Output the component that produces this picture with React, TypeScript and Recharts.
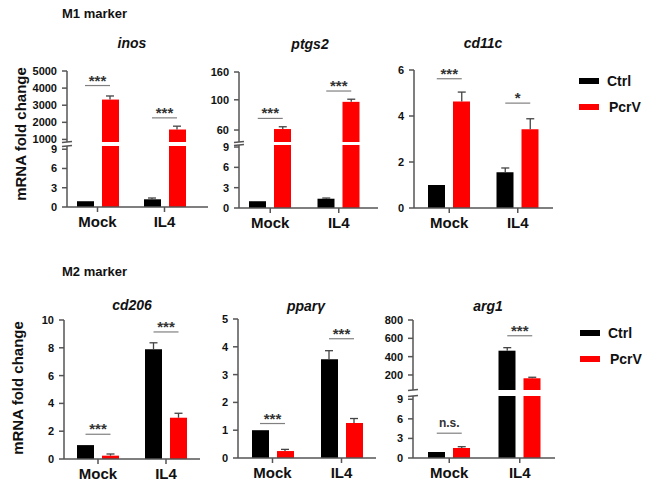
import React from 'react'
import { BarChart, Bar, XAxis, YAxis, ReferenceLine, ReferenceDot, Legend } from 'recharts'

const FONT = '"Liberation Sans", Arial, Helvetica, sans-serif'

const categories = ['Mock', 'IL4']

// M1 markers
const inosCtrl = [0.9, 1.2]
const inosCtrlErr = [0, 0.2]
const inosPcrv = [3330, 1580]
const inosPcrvErr = [210, 195]
const inosSig = [4150, 2260]
const inosSigLabel = ['***', '***']

const ptgs2Ctrl = [1.0, 1.37]
const ptgs2CtrlErr = [0, 0.1]
const ptgs2Pcrv = [61, 96.6]
const ptgs2PcrvErr = [2.4, 4.4]
const ptgs2Sig = [73, 116]
const ptgs2SigLabel = ['***', '***']

const cd11cCtrl = [1.0, 1.55]
const cd11cCtrlErr = [0, 0.19]
const cd11cPcrv = [4.63, 3.42]
const cd11cPcrvErr = [0.41, 0.46]
const cd11cSig = [5.62, 4.56]
const cd11cSigLabel = ['***', '*']

// M2 markers
const cd206Ctrl = [1.0, 7.9]
const cd206CtrlErr = [0, 0.46]
const cd206Pcrv = [0.24, 2.97]
const cd206PcrvErr = [0.12, 0.32]
const cd206Sig = [1.78, 9.14]
const cd206SigLabel = ['***', '***']

const ppargCtrl = [1.0, 3.55]
const ppargCtrlErr = [0, 0.31]
const ppargPcrv = [0.25, 1.26]
const ppargPcrvErr = [0.06, 0.16]
const ppargSig = [1.24, 4.29]
const ppargSigLabel = ['***', '***']

const arg1Ctrl = [0.92, 465]
const arg1CtrlErr = [0, 33]
const arg1Pcrv = [1.53, 164]
const arg1PcrvErr = [0.2, 11]
const arg1Sig = [3.8, 628]
const arg1SigLabel = ['n.s.', '***']

const YW = 40
const MT = 10
const XH = 32
const BAR = 17
const GAP = 8
const HALF = (BAR + GAP) / 2

type Seg = { top: number; bottom: number; domain: [number, number]; ticks: number[]; log?: boolean }

type PanelDef = {
  axisX: number
  right: number
  padL: number
  padR: number
  lower: Seg
  upper?: Seg
  ctrl: number[]
  ctrlErr: number[]
  pcrv: number[]
  pcrvErr: number[]
  sig: number[]
  sigLabel: string[]
  legend?: { x: number; y: number; gap: number; seg: 'lower' | 'upper' }
}

const errShape = (dx: number) => (props: any) => {
  const x = props.x1 + dx
  const yTop = Math.min(props.y1, props.y2)
  const yBot = Math.max(props.y1, props.y2)
  return (
    <g>
      <line x1={x} y1={yBot} x2={x} y2={yTop} stroke="#444" strokeWidth={1.3} />
      <line x1={x - 4} y1={yTop} x2={x + 4} y2={yTop} stroke="#444" strokeWidth={1.3} />
    </g>
  )
}

const sigShape = (label: string) => (props: any) => {
  const { cx, cy } = props
  const stars = label.includes('*')
  return (
    <g>
      <line x1={cx - HALF} x2={cx + HALF} y1={cy} y2={cy} stroke="#808080" strokeWidth={1.2} />
      <text x={cx} y={stars ? cy : cy - 6.5} textAnchor="middle" fontSize={stars ? 15 : 12}
        fontWeight="bold" fill="#333" fontFamily={FONT}>{label}</text>
    </g>
  )
}

const breakShape = (props: any) => {
  const x = Math.min(props.x1, props.x2)
  const y = props.y1
  return <line x1={x - 5} y1={y + 0.5} x2={x + 5} y2={y - 0.5} stroke="#555" strokeWidth={1.5} />
}

const legendContent = (gap: number) => (props: any) => (
  <div style={{ position: 'relative', width: 80, height: 50 }}>
    {(props.payload ?? []).map((e: any, i: number) => (
      <div key={e.value} style={{ position: 'absolute', left: 0, top: i * gap, display: 'flex', alignItems: 'center', height: 16 }}>
        <span style={{ width: 20, height: 6, background: e.color, display: 'inline-block' }} />
        <span style={{ marginLeft: i === 0 ? 8 : 10, fontSize: 14, fontWeight: 'bold', fontFamily: FONT, color: '#111' }}>{e.value}</span>
      </div>
    ))}
  </div>
)

function SegmentChart({ p, seg, showX, kind }: { p: PanelDef; seg: Seg; showX: boolean; kind: 'lower' | 'upper' }) {
  const plotW = p.right - p.axisX
  const plotH = seg.bottom - seg.top
  const hasLegend = p.legend && p.legend.seg === kind
  const mr = hasLegend ? 650 - p.right : 6
  const mb = showX ? 0 : 6
  const left = p.axisX - YW
  const top = seg.top - MT
  const rows = categories.map((c, i) => ({ name: c, ctrl: p.ctrl[i], pcrv: p.pcrv[i] }))
  const axisStyle = { stroke: '#555', strokeWidth: 1.5 }
  return (
    <div style={{ position: 'absolute', left, top }}>
      <BarChart width={YW + plotW + mr} height={MT + plotH + (showX ? XH : 0) + mb} data={rows}
        margin={{ top: MT, right: mr, bottom: mb, left: 0 }} barSize={BAR} barGap={GAP}>
        <XAxis dataKey="name" hide={!showX} height={XH} padding={{ left: p.padL, right: p.padR }}
          tickSize={5} tickMargin={4} axisLine={axisStyle} tickLine={axisStyle}
          tick={{ fontSize: 15, fontWeight: 'bold', fill: '#111', fontFamily: FONT }} />
        <YAxis width={YW} type="number" scale={seg.log ? 'log' : 'linear'} domain={seg.domain} ticks={seg.ticks}
          allowDataOverflow interval={0} tickSize={5} tickMargin={5} axisLine={axisStyle} tickLine={axisStyle}
          tick={{ fontSize: 11, fontWeight: 'bold', fill: '#111', fontFamily: FONT }} />
        <Bar dataKey="ctrl" name="Ctrl" fill="#000000" isAnimationActive={false} />
        <Bar dataKey="pcrv" name="PcrV" fill="#ff0000" isAnimationActive={false} />
        {p.upper && kind === 'upper' && <ReferenceLine y={seg.domain[0]} shape={breakShape} />}
        {p.upper && kind === 'lower' && <ReferenceLine y={seg.domain[1]} shape={breakShape} />}
        {categories.map((c, i) => p.ctrlErr[i] > 0 && (
          <ReferenceLine key={'ce' + i} ifOverflow="discard" shape={errShape(-HALF)}
            segment={[{ x: c, y: p.ctrl[i] }, { x: c, y: p.ctrl[i] + p.ctrlErr[i] }]} />
        ))}
        {categories.map((c, i) => p.pcrvErr[i] > 0 && (
          <ReferenceLine key={'pe' + i} ifOverflow="discard" shape={errShape(HALF)}
            segment={[{ x: c, y: p.pcrv[i] }, { x: c, y: p.pcrv[i] + p.pcrvErr[i] }]} />
        ))}
        {categories.map((c, i) => (
          <ReferenceDot key={'s' + i} x={c} y={p.sig[i]} ifOverflow="discard" shape={sigShape(p.sigLabel[i])} />
        ))}
        {hasLegend && (
          <Legend layout="horizontal" verticalAlign="middle" align="center"
            wrapperStyle={{ left: p.legend!.x - left, top: p.legend!.y - top - 5, width: 80, height: 50 }}
            content={legendContent(p.legend!.gap)} />
        )}
      </BarChart>
    </div>
  )
}

function Panel({ p }: { p: PanelDef }) {
  return (
    <>
      {p.upper && <SegmentChart p={p} seg={p.upper} showX={false} kind="upper" />}
      <SegmentChart p={p} seg={p.lower} showX kind="lower" />
    </>
  )
}

const panels: PanelDef[] = [
  {
    axisX: 67, right: 208, padL: -3, padR: 10,
    lower: { top: 146, bottom: 207, domain: [0, 9.5], ticks: [0, 3, 6, 9] },
    upper: { top: 71, bottom: 142, domain: [850, 5000], ticks: [1000, 2000, 3000, 4000, 5000] },
    ctrl: inosCtrl, ctrlErr: inosCtrlErr, pcrv: inosPcrv, pcrvErr: inosPcrvErr, sig: inosSig, sigLabel: inosSigLabel,
  },
  {
    axisX: 239, right: 378, padL: -3, padR: 5,
    lower: { top: 145, bottom: 208, domain: [0, 9.3], ticks: [0, 3, 6, 9] },
    upper: { top: 72, bottom: 142, domain: [49, 160], ticks: [60, 100, 160], log: true },
    ctrl: ptgs2Ctrl, ctrlErr: ptgs2CtrlErr, pcrv: ptgs2Pcrv, pcrvErr: ptgs2PcrvErr, sig: ptgs2Sig, sigLabel: ptgs2SigLabel,
  },
  {
    axisX: 414, right: 553, padL: 1, padR: 1,
    lower: { top: 70, bottom: 208, domain: [0, 6], ticks: [0, 2, 4, 6] },
    ctrl: cd11cCtrl, ctrlErr: cd11cCtrlErr, pcrv: cd11cPcrv, pcrvErr: cd11cPcrvErr, sig: cd11cSig, sigLabel: cd11cSigLabel,
    legend: { x: 579, y: 78, gap: 26, seg: 'lower' },
  },
  {
    axisX: 64, right: 200, padL: 0, padR: 0,
    lower: { top: 320, bottom: 459, domain: [0, 10], ticks: [0, 2, 4, 6, 8, 10] },
    ctrl: cd206Ctrl, ctrlErr: cd206CtrlErr, pcrv: cd206Pcrv, pcrvErr: cd206PcrvErr, sig: cd206Sig, sigLabel: cd206SigLabel,
  },
  {
    axisX: 238, right: 376, padL: 0, padR: 0,
    lower: { top: 319, bottom: 458, domain: [0, 5], ticks: [0, 1, 2, 3, 4, 5] },
    ctrl: ppargCtrl, ctrlErr: ppargCtrlErr, pcrv: ppargPcrv, pcrvErr: ppargPcrvErr, sig: ppargSig, sigLabel: ppargSigLabel,
  },
  {
    axisX: 413, right: 555, padL: 1, padR: 0,
    lower: { top: 396, bottom: 458, domain: [0, 9.5], ticks: [0, 3, 6, 9] },
    upper: { top: 320, bottom: 390, domain: [36, 800], ticks: [200, 400, 600, 800] },
    ctrl: arg1Ctrl, ctrlErr: arg1CtrlErr, pcrv: arg1Pcrv, pcrvErr: arg1PcrvErr, sig: arg1Sig, sigLabel: arg1SigLabel,
    legend: { x: 580, y: 330, gap: 26, seg: 'upper' },
  },
]

const titles = [
  { text: 'inos', x: 132, y: 43 },
  { text: 'ptgs2', x: 310, y: 44 },
  { text: 'cd11c', x: 483, y: 43 },
  { text: 'cd206', x: 132, y: 305 },
  { text: 'pparγ', x: 306, y: 306 },
  { text: 'arg1', x: 488, y: 306 },
]

const center: React.CSSProperties = { position: 'absolute', transform: 'translate(-50%, -50%)', whiteSpace: 'nowrap', lineHeight: 1 }

export default function App() {
  return (
    <div style={{ position: 'absolute', left: 0, top: 0, width: 650, height: 487, background: '#fff', fontFamily: FONT, color: '#111' }}>
      <div style={{ position: 'absolute', left: 62, top: 6, fontSize: 13, fontWeight: 'bold' }}>M1 marker</div>
      <div style={{ position: 'absolute', left: 62, top: 264, fontSize: 13, fontWeight: 'bold' }}>M2 marker</div>
      <div style={{ ...center, left: 20, top: 134, fontSize: 15, fontWeight: 'bold', transform: 'translate(-50%, -50%) rotate(-90deg)' }}>mRNA fold change</div>
      <div style={{ ...center, left: 17, top: 388, fontSize: 15, fontWeight: 'bold', transform: 'translate(-50%, -50%) rotate(-90deg)' }}>mRNA fold change</div>
      {titles.map(t => (
        <div key={t.text} style={{ ...center, left: t.x, top: t.y, fontSize: 14, fontWeight: 'bold', fontStyle: 'italic' }}>{t.text}</div>
      ))}
      {panels.map((p, i) => <Panel key={i} p={p} />)}
    </div>
  )
}
